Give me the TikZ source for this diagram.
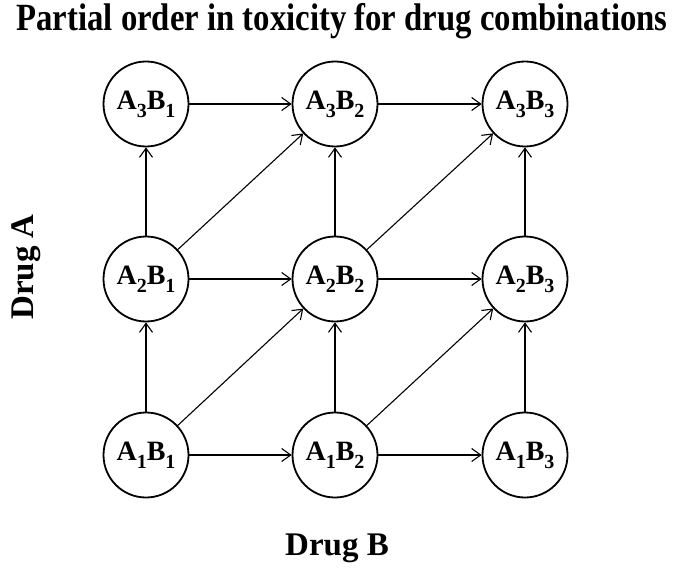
\documentclass[tikz,border=0pt]{standalone}
\usepackage{fontspec}
\setmainfont{Liberation Serif}
\newfontfamily\titlefont[FakeStretch=0.85]{Liberation Serif}
\usetikzlibrary{arrows.meta}
\newcommand{\lsub}[1]{\raisebox{-0.28em}{\fontsize{20}{20}\selectfont #1}}
\newcommand{\combo}[2]{A\lsub{#1}B\lsub{#2}}
\tikzset{
  dose/.style={circle, draw, line width=1.8pt, minimum size=85pt, inner sep=0pt,
    font=\fontsize{28}{30}\selectfont\bfseries},
  order/.style={->, line width=1.1pt},
}
\begin{document}
\begin{tikzpicture}[x=1pt, y=-1pt, line join=round, line cap=round,
    >={Straight Barb[length=9pt,width=13pt,line width=1.1pt]}]
\useasboundingbox (0,0) rectangle (685,572);
\node[font=\titlefont\fontsize{38.5}{42}\selectfont\bfseries] (title) at (342,21) {Partial order in toxicity for drug combinations};
% grid of dose combinations
\foreach \i/\y in {1/455,2/279,3/104}
  \foreach \j/\x in {1/146,2/335,3/525}
    \node[dose] (a\i\j) at (\x,\y) {\combo{\i}{\j}};
% drug B increases
\foreach \i in {1,2,3}
  \foreach \j/\nj in {1/2,2/3}
    \draw[order] (a\i\j)--(a\i\nj);
% drug A increases
\foreach \j in {1,2,3}
  \foreach \i/\ni in {1/2,2/3}
    \draw[order] (a\i\j)--(a\ni\j);
% both increase
\foreach \i/\ni in {1/2,2/3}
  \foreach \j/\nj in {1/2,2/3}
    \draw[order] (a\i\j)--(a\ni\nj);
\node[rotate=90, font=\fontsize{33}{36}\selectfont\bfseries] (druga) at (26,267) {Drug A};
\node[font=\fontsize{33}{36}\selectfont\bfseries] (drugb) at (337,548) {Drug B};
\end{tikzpicture}
\end{document}
